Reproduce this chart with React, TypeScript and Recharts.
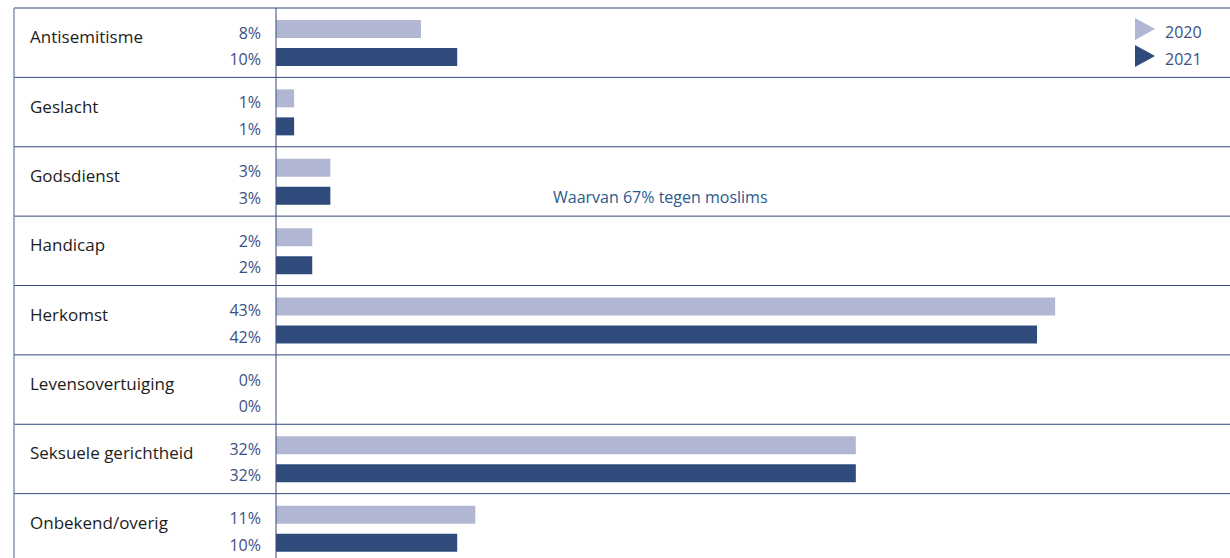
import { Bar, BarChart, XAxis, YAxis } from 'recharts'

const categories = [
  'Antisemitisme',
  'Geslacht',
  'Godsdienst',
  'Handicap',
  'Herkomst',
  'Levensovertuiging',
  'Seksuele gerichtheid',
  'Onbekend/overig',
]
const values2020 = [8, 1, 3, 2, 43, 0, 32, 11]
const values2021 = [10, 1, 3, 2, 42, 0, 32, 10]
const seriesNames = ['2020', '2021']
const note = 'Waarvan 67% tegen moslims'

const data = categories.map((name, i) => ({
  name,
  y2020: values2020[i],
  y2021: values2021[i],
}))

const LIGHT = '#b1b7d2'
const DARK = '#2e4b7c'
const LINE = '#34497a'
const TEXT_BLUE = '#3a5184'
const FONT = '"Open Sans", sans-serif'

function CategoryTick(props: any) {
  const { x, y, payload, index } = props
  const half = payload?.offset || 34.7
  const top = y - half
  return (
    <g fontFamily={FONT}>
      <line x1={14} x2={1230} y1={top} y2={top} stroke={LINE} strokeWidth={1} />
      <line x1={14} x2={14} y1={top} y2={y + half} stroke="#8494b5" strokeWidth={1.5} />
      <text x={30} y={y + 0.5} fontSize={17} fill="#1c1c1c">
        {payload.value}
      </text>
      {/* percentage labels, right aligned next to the axis */}
      <text x={x - 7} y={y - 4} fontSize={16} fill={TEXT_BLUE} textAnchor="end">
        {`${values2020[index]}%`}
      </text>
      <text x={x - 7} y={y + 22.5} fontSize={16} fill={TEXT_BLUE} textAnchor="end">
        {`${values2021[index]}%`}
      </text>
    </g>
  )
}

export default function App() {
  const legendColors = [LIGHT, DARK]
  return (
    <div style={{ position: 'absolute', left: 0, top: 0, width: 1230, height: 558, overflow: 'hidden', background: '#fff' }}>
      <BarChart
        width={1230}
        height={563}
        data={data}
        layout="vertical"
        margin={{ top: 8, right: 0, bottom: 0, left: 0 }}
        barSize={18}
        barGap={10}
      >
        <XAxis type="number" domain={[0, 52.65]} hide allowDataOverflow />
        <YAxis
          type="category"
          dataKey="name"
          width={276}
          tickLine={false}
          axisLine={{ stroke: LINE }}
          tick={(p: any) => <CategoryTick {...p} />}
          interval={0}
        />
        <Bar dataKey="y2020" name="2020" fill={LIGHT} isAnimationActive={false} />
        <Bar dataKey="y2021" name="2021" fill={DARK} isAnimationActive={false} />
      </BarChart>
      <svg
        width={1230}
        height={558}
        style={{ position: 'absolute', left: 0, top: 0, pointerEvents: 'none' }}
        fontFamily={FONT}
      >
        <text x={553} y={203} fontSize={16} fill="#2a5a8e">
          {note}
        </text>
        {seriesNames.map((s, i) => (
          <g key={s} transform={`translate(1135, ${18 + i * 27})`}>
            <polygon points="0,0 20,11 0,22" fill={legendColors[i]} />
            <text x={30} y={20} fontSize={16} fill={TEXT_BLUE}>
              {s}
            </text>
          </g>
        ))}
      </svg>
    </div>
  )
}
